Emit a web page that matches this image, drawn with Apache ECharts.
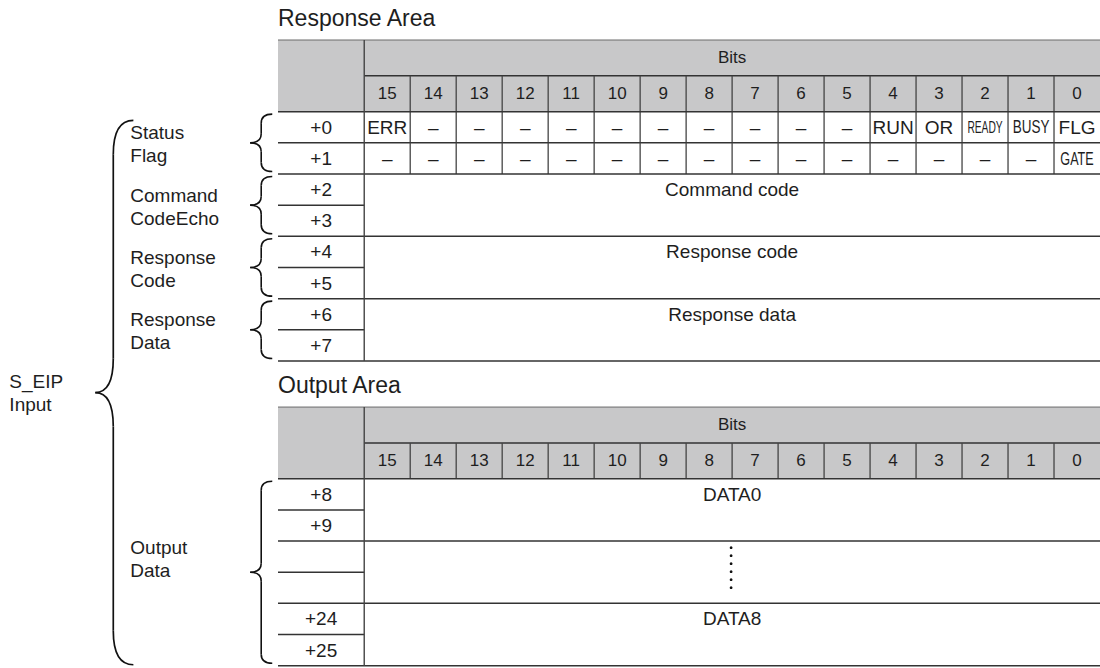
<!DOCTYPE html>
<html><head><meta charset="utf-8">
<script src="https://cdn.jsdelivr.net/npm/echarts@6/dist/echarts.min.js"></script>
<style>html,body{margin:0;padding:0;background:#fff}#c{width:1100px;height:668px}</style>
</head><body><div id="c"></div>
<script>
// ---------------- data ----------------
const bits = ['15','14','13','12','11','10','9','8','7','6','5','4','3','2','1','0'];
const responseTitle = 'Response Area';
const outputTitle = 'Output Area';
const headerLabel = 'Bits';
const responseOffsets = ['+0','+1','+2','+3','+4','+5','+6','+7'];
const statusFlagBits0 = ['ERR','–','–','–','–','–','–','–','–','–','–','RUN','OR','READY','BUSY','FLG'];
const statusFlagBits1 = ['–','–','–','–','–','–','–','–','–','–','–','–','–','–','–','GATE'];
const responseWords = ['Command code','Response code','Response data'];
const responseWordSpans = [2, 2, 2];
const outputOffsets = ['+8','+9','','','+24','+25'];
const outputWords = ['DATA0','⋮','DATA8'];
const outputWordSpans = [2, 2, 2];
const responseGroups = ['Status\nFlag','Command\nCodeEcho','Response\nCode','Response\nData'];
const responseGroupSpans = [2, 2, 2, 2];
const outputGroups = ['Output\nData'];
const outputGroupSpans = [6];
const outerGroup = 'S_EIP\nInput';

// ---------------- layout / style ----------------
const FONT = '"Liberation Sans", Arial, Helvetica, sans-serif';
const TXT = '#1e1e1e';
const X_LEFT = -1.875, X_RIGHT = 16;      // label column starts at X_LEFT, bit columns 0..16
const HEAD_H = 1.15;                        // header row height (in data-row units)
const RESP_TOP = 0, OUT_TOP = 11.78;        // table tops
const TITLE_OFF = 0.71;
const NARROW = { READY: {size: 16, sx: 0.64}, BUSY: {size: 18, sx: 0.75}, GATE: {size: 18, sx: 0.7} };
const SMALL_BRACE = {xEnd: -2.0, xMid: -2.24, xTip: -2.48, rv: 9, inset: 0.08};
const BIG_BRACE = {xEnd: -5.02, xMid: -5.457, xTip: -5.848, rv: 34};
const GROUP_TEXT_X = -5.087, OUTER_TEXT_X = -7.717;
const RESP_GROUP_TEXT_DY = 0.05, OUT_GROUP_TEXT_DY = -0.42;

function renderItem(params, api) {
  const ch = [];
  const P = (x, y) => api.coord([x, y]);
  const line = (x1, y1, x2, y2, stroke, w) => {
    const a = P(x1, y1), b = P(x2, y2);
    ch.push({type: 'line', shape: {x1: a[0], y1: a[1], x2: b[0], y2: b[1]}, style: {stroke: stroke, lineWidth: w}});
  };
  const text = (x, y, t, o) => {
    o = o || {};
    const p = P(x, y);
    const al = o.align || 'center';
    ch.push({type: 'text', x: p[0], y: p[1], scaleX: o.sx || 1,
      style: {text: t, fill: TXT, fontSize: o.size || 19, fontFamily: FONT,
        align: al, verticalAlign: 'middle', textAlign: al, textVerticalAlign: 'middle',
        lineHeight: o.lh || 23}});
  };
  const quad = (a, c, b, w) => {
    ch.push({type: 'bezierCurve', shape: {x1: a[0], y1: a[1], cpx1: c[0], cpy1: c[1], x2: b[0], y2: b[1]},
      style: {stroke: '#111', lineWidth: w, fill: null}});
  };
  const seg = (a, b, w) => ch.push({type: 'line', shape: {x1: a[0], y1: a[1], x2: b[0], y2: b[1]}, style: {stroke: '#111', lineWidth: w}});
  const brace = (B, y0, y1, w) => {
    const t = P(B.xEnd, y0), bt = P(B.xEnd, y1);
    const xE = t[0], xM = P(B.xMid, y0)[0], xT = P(B.xTip, y0)[0];
    const yT = t[1], yB = bt[1], yM = (yT + yB) / 2, r = B.rv;
    quad([xE, yT], [xM, yT], [xM, yT + r], w);
    seg([xM, yT + r], [xM, yM - r], w);
    quad([xM, yM - r], [xM, yM], [xT, yM], w);
    quad([xT, yM], [xM, yM], [xM, yM + r], w);
    seg([xM, yM + r], [xM, yB - r], w);
    quad([xM, yB - r], [xM, yB], [xE, yB], w);
  };

  function drawTable(top, title, offsets, blocks) {
    text(X_LEFT, top - TITLE_OFF, title, {align: 'left', size: 23});
    const a = P(X_LEFT, top), b = P(X_RIGHT, top + 2 * HEAD_H);
    ch.push({type: 'rect', shape: {x: a[0], y: a[1], width: b[0] - a[0], height: b[1] - a[1]}, style: {fill: '#c8c8c9'}});
    line(X_LEFT, top, X_RIGHT, top, '#6a6a6a', 1);
    line(0, top + HEAD_H, X_RIGHT, top + HEAD_H, '#333', 1.5);
    text(8, top + HEAD_H / 2, headerLabel, {size: 17});
    bits.forEach((bt, i) => text(i + 0.5, top + 1.5 * HEAD_H, bt, {size: 17}));
    for (let i = 1; i < 16; i++) line(i, top + HEAD_H, i, top + 2 * HEAD_H, '#444', 1.3);
    let r = top + 2 * HEAD_H;
    const dataTop = r;
    blocks.forEach(bl => {
      if (bl.cells) {
        bl.cells.forEach((c, i) => {
          const n = NARROW[c];
          text(i + 0.5, r + 0.5, c, n ? {size: n.size, sx: n.sx} : {});
        });
        for (let i = 1; i < 16; i++) line(i, r, i, r + 1, '#444', 1.3);
        r += 1;
        line(X_LEFT, r, X_RIGHT, r, '#333', 1.5);
      } else {
        if (bl.word === '⋮') {
          const c = P(8, r + 1);
          for (let k = 0; k < 6; k++) ch.push({type: 'circle', shape: {cx: c[0] - 1, cy: c[1] - 24.5 + k * 8, r: 1.4}, style: {fill: '#111'}});
        } else {
          text(8, r + 0.5, bl.word);
        }
        for (let k = 1; k < bl.span; k++) line(X_LEFT, r + k, 0, r + k, '#333', 1.5);
        r += bl.span;
        line(X_LEFT, r, X_RIGHT, r, '#333', 1.5);
      }
    });
    line(X_LEFT, top + 2 * HEAD_H, X_RIGHT, top + 2 * HEAD_H, '#333', 1.5);
    line(0, top, 0, r, '#444', 1.4);
    offsets.forEach((o, j) => { if (o) text(X_LEFT / 2, dataTop + j + 0.5, o); });
    return {dataTop: dataTop, bottom: r};
  }

  const respBlocks = [{cells: statusFlagBits0}, {cells: statusFlagBits1}]
    .concat(responseWords.map((w, i) => ({word: w, span: responseWordSpans[i]})));
  const outBlocks = outputWords.map((w, i) => ({word: w, span: outputWordSpans[i]}));
  const R = drawTable(RESP_TOP, responseTitle, responseOffsets, respBlocks);
  const O = drawTable(OUT_TOP, outputTitle, outputOffsets, outBlocks);

  function drawGroups(start, labels, spans, dy) {
    let y = start;
    labels.forEach((g, i) => {
      const s = spans[i];
      brace(SMALL_BRACE, y + SMALL_BRACE.inset, y + s - SMALL_BRACE.inset, 1.6);
      text(GROUP_TEXT_X, y + s / 2 + dy, g, {align: 'left'});
      y += s;
    });
  }
  drawGroups(R.dataTop, responseGroups, responseGroupSpans, RESP_GROUP_TEXT_DY);
  drawGroups(O.dataTop, outputGroups, outputGroupSpans, OUT_GROUP_TEXT_DY);
  const oy0 = R.dataTop + 0.28, oy1 = O.bottom - 0.03;
  brace(BIG_BRACE, oy0, oy1, 1.7);
  text(OUTER_TEXT_X, (oy0 + oy1) / 2, outerGroup, {align: 'left'});

  return {type: 'group', children: ch};
}

const chart = echarts.init(document.getElementById('c'), null, {renderer: 'svg'});
chart.setOption({
  animation: false,
  backgroundColor: '#ffffff',
  grid: {left: 278, right: 0, top: 40, bottom: 2},
  xAxis: {type: 'value', min: X_LEFT, max: X_RIGHT, show: false},
  yAxis: {type: 'value', min: 0, max: 20.09, inverse: true, show: false},
  series: [{type: 'custom', renderItem: renderItem, data: [[0, 0]], clip: false, silent: true}]
});
</script>
</body></html>
